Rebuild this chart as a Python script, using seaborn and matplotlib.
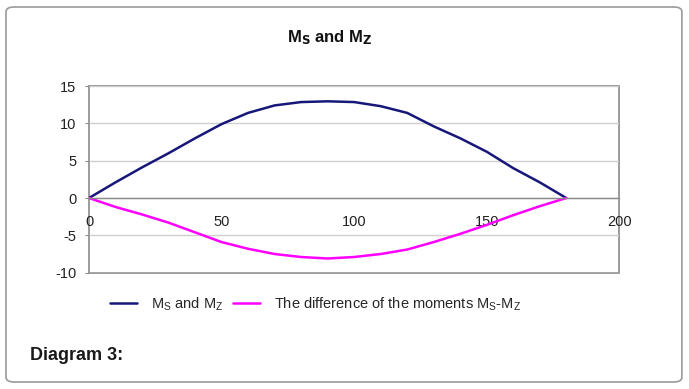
import matplotlib
matplotlib.use("Agg")
import pandas as pd
import matplotlib.pyplot as plt
import seaborn as sns
from matplotlib.patches import FancyBboxPatch

# angle in degrees
angles = [0, 10, 20, 30, 40, 50, 60, 70, 80, 90, 100, 110, 120, 130, 140, 150, 160, 170, 180]
ms_mz = [0, 2.1, 4.1, 6.0, 8.0, 9.9, 11.4, 12.4, 12.85, 12.95, 12.85, 12.3, 11.4, 9.6, 8.0, 6.2, 4.0, 2.1, 0]
diff = [0, -1.2, -2.2, -3.3, -4.6, -5.9, -6.8, -7.5, -7.9, -8.1, -7.9, -7.5, -6.9, -5.9, -4.8, -3.6, -2.3, -1.1, 0]

label_a = r"M$_\mathregular{S}$ and M$_\mathregular{Z}$"
label_b = r"The difference of the moments M$_\mathregular{S}$-M$_\mathregular{Z}$"

df = pd.DataFrame({
    "angle": angles * 2,
    "moment": ms_mz + diff,
    "series": [label_a] * len(angles) + [label_b] * len(angles),
})

sns.set_style("white")
plt.rcParams["font.family"] = ["Liberation Sans", "DejaVu Sans"]
plt.rcParams["mathtext.default"] = "regular"
plt.rcParams["axes.unicode_minus"] = False

fig = plt.figure(figsize=(6.89, 3.89), dpi=100)
ax = fig.add_axes([0.1292, 0.299, 0.7696, 0.4799])

sns.lineplot(data=df, x="angle", y="moment", hue="series",
             palette=["#17177a", "#ff00ff"], linewidth=1.8, ax=ax)

ax.set_xlim(0, 200)
ax.set_ylim(-10, 15)
ax.set_xticks([0, 50, 100, 150, 200])
ax.set_yticks([-10, -5, 0, 5, 10, 15])
ax.set_xlabel("")
ax.set_ylabel("")

# grid + frame
ax.yaxis.grid(True, color="#cfcfcf", linewidth=1)
ax.set_axisbelow(True)
for s in ["left", "top", "right"]:
    ax.spines[s].set_visible(False)
ax.spines["bottom"].set_position(("data", 0))
ax.spines["bottom"].set_color("#8a8a8a")
ax.spines["bottom"].set_linewidth(1)
ax.patch.set_edgecolor("#8a8a8a")
ax.patch.set_linewidth(1.2)

ax.tick_params(axis="x", direction="out", length=3, color="#8a8a8a",
               pad=9, labelsize=10.5, colors="#222222")
ax.tick_params(axis="y", direction="out", length=3, color="#8a8a8a",
               left=True, pad=6, labelsize=10.5, colors="#222222")

# legend below the plot
ax.legend(loc="center", bbox_to_anchor=(0.458, 0.218), bbox_transform=fig.transFigure,
          ncol=2, frameon=False, fontsize=10.5, handlelength=1.85,
          columnspacing=0.7, handletextpad=0.95)
for line in ax.get_legend().get_lines():
    line.set_linewidth(1.8)

fig.text(0.479, 0.902, r"M$_\mathbf{S}$ and M$_\mathbf{Z}$", ha="center", va="center",
         fontsize=12, fontweight="bold", color="#111111")
fig.text(0.044, 0.085, "Diagram 3:", ha="left", va="center",
         fontsize=13, fontweight="bold", color="#1a1a1a")

# rounded card border
fig.patches.append(FancyBboxPatch((0.0087, 0.018), 0.981, 0.964,
                                  boxstyle="round,pad=0,rounding_size=0.012",
                                  transform=fig.transFigure, facecolor="none",
                                  edgecolor="#9a9a9a", linewidth=1.2))

fig.savefig("out.png", dpi=100)
plt.close(fig)
